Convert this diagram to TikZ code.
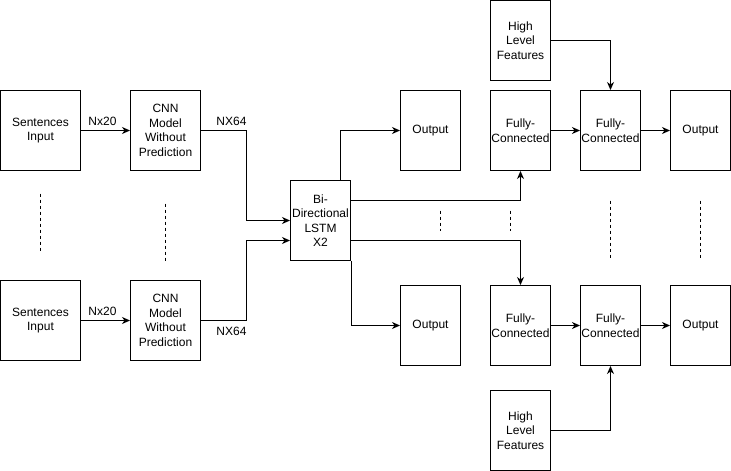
\documentclass[tikz,border=0pt]{standalone}
\usepackage{fontspec}
\setmainfont{Liberation Sans}
\usetikzlibrary{arrows.meta}
\begin{document}
\begin{tikzpicture}[x=1pt,y=-1pt,
  box/.style={draw=black, line width=1pt, rectangle, align=center, inner sep=1pt,
    font=\fontsize{12}{14.5}\selectfont, minimum height=80pt},
  wbox/.style={box, minimum width=80pt},
  cbox/.style={box, minimum width=70pt},
  nbox/.style={box, minimum width=60pt},
  arr/.style={line width=1pt, -{Stealth[length=8pt,width=7pt,inset=2.5pt]}},
  dline/.style={line width=1pt, dash pattern=on 3pt off 3pt},
  lbl/.style={font=\fontsize{12}{14}\selectfont, inner sep=0pt}]
\useasboundingbox (-0.5,-0.5) rectangle (730.5,470.5);
% left side
\node[wbox] (s1) at (40,130) {Sentences\\Input};
\node[wbox] (s2) at (40,320) {Sentences\\Input};
\node[cbox] (c1) at (165,130) {CNN\\Model\\Without\\Prediction};
\node[cbox] (c2) at (165,320) {CNN\\Model\\Without\\Prediction};
\node[nbox] (lstm) at (320,220) {Bi-\\Directional\\LSTM\\X2};
% right side
\node[nbox] (o1) at (430,130) {Output};
\node[nbox] (o2) at (430,325) {Output};
\node[nbox] (h1) at (520,40) {High\\Level\\Features};
\node[nbox] (h2) at (520,430) {High\\Level\\Features};
\node[nbox] (fc1) at (520,130) {Fully-\\Connected};
\node[nbox] (fc2) at (520,325) {Fully-\\Connected};
\node[nbox] (fd1) at (610,130) {Fully-\\Connected};
\node[nbox] (fd2) at (610,325) {Fully-\\Connected};
\node[nbox] (r1) at (700,130) {Output};
\node[nbox] (r2) at (700,325) {Output};
% labels
\node[lbl] (l1) at (102,121) {Nx20};
\node[lbl] (l2) at (102,311) {Nx20};
\node[lbl] (l3) at (231,121) {NX64};
\node[lbl] (l4) at (231,331) {NX64};
% connectors
\draw[arr] (s1) -- (c1);
\draw[arr] (s2) -- (c2);
\draw[arr] (c1.east) -- ++(45,0) |- (lstm.west);
\draw[arr] (c2.east) -- ++(45,0) |- ([yshift=-20pt]lstm.west);
\draw[arr] ([xshift=20pt]lstm.north) |- (o1.west);
\draw[arr] ([yshift=20pt]lstm.east) -| (fc1.south);
\draw[arr] ([yshift=-20pt]lstm.east) -| (fc2.north);
\draw[arr] (lstm.south east) |- (o2.west);
\draw[arr] (fc1) -- (fd1);
\draw[arr] (fc2) -- (fd2);
\draw[arr] (fd1) -- (r1);
\draw[arr] (fd2) -- (r2);
\draw[arr] (h1.east) -| (fd1.north);
\draw[arr] (h2.east) -| (fd2.south);
% dashed ellipsis lines
\draw[dline] (40,193) -- (40,250);
\draw[dline] (165,203) -- (165,260);
\draw[dline] (440,210) -- (440,230);
\draw[dline] (510,210) -- (510,230);
\draw[dline] (609.5,200) -- (609.5,257);
\draw[dline] (700,200) -- (700,257);
\end{tikzpicture}
\end{document}
